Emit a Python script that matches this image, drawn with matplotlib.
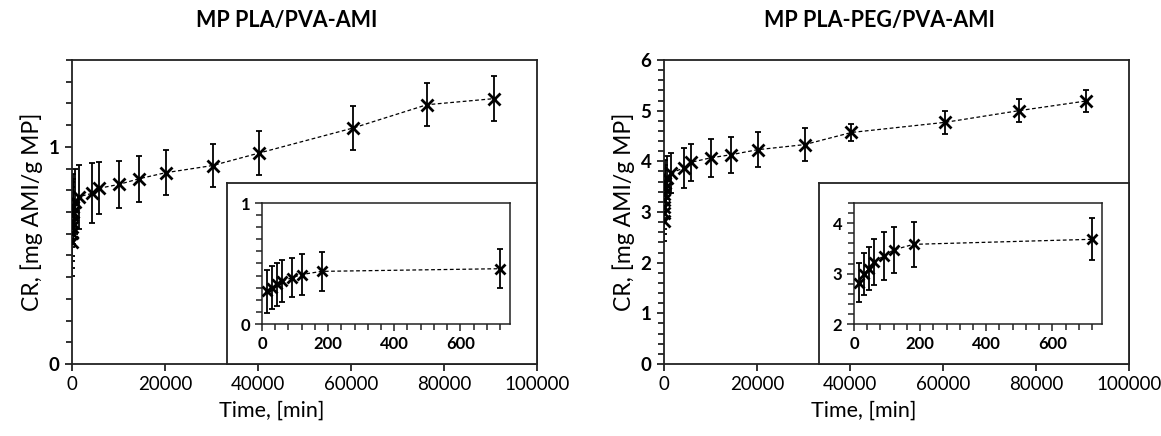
import matplotlib
matplotlib.use("Agg")
import matplotlib.pyplot as plt
from matplotlib.ticker import MultipleLocator

plt.rcParams['font.family'] = ['Lato', 'DejaVu Sans']

# time points, [min]
t_early = [15, 30, 45, 60, 90, 120, 180, 720]
t_late = [1440, 4320, 5760, 10080, 14400, 20160, 30240, 40320, 60480, 76320, 90720]

# MP PLA/PVA-AMI
pla_main_early = [0.563, 0.602, 0.633, 0.656, 0.687, 0.702, 0.725, 0.748]
pla_main_early_err = [0.16, 0.16, 0.16, 0.16, 0.15, 0.15, 0.15, 0.15]
pla_late = [0.770, 0.786, 0.809, 0.827, 0.853, 0.881, 0.914, 0.972, 1.087, 1.194, 1.222]
pla_late_err = [0.147, 0.138, 0.12, 0.11, 0.105, 0.103, 0.10, 0.10, 0.10, 0.10, 0.105]
pla_inset = [0.269, 0.301, 0.328, 0.355, 0.382, 0.409, 0.435, 0.457]
pla_inset_err = [0.178, 0.179, 0.179, 0.176, 0.16, 0.168, 0.16, 0.16]

# MP PLA-PEG/PVA-AMI
peg_inset = [2.82, 2.99, 3.10, 3.23, 3.35, 3.47, 3.58, 3.68]
peg_inset_err = [0.39, 0.42, 0.43, 0.45, 0.47, 0.46, 0.45, 0.42]
peg_late = [3.77, 3.87, 3.98, 4.07, 4.13, 4.23, 4.33, 4.57, 4.77, 5.00, 5.19]
peg_late_err = [0.39, 0.39, 0.37, 0.37, 0.36, 0.34, 0.32, 0.17, 0.23, 0.23, 0.21]

W, H = 1161, 436
fig = plt.figure(figsize=(W / 100, H / 100), dpi=100)


def box(x0, y0, x1, y1):
    return [x0 / W, 1 - y1 / H, (x1 - x0) / W, (y1 - y0) / H]


def series(ax, t, y, e, ms=8):
    ax.errorbar(t, y, yerr=e, fmt='none', ecolor='black', elinewidth=1.3,
                capsize=2.5, capthick=1.3, zorder=2)
    ax.plot(t, y, linestyle=(0, (3, 2)), color='black', linewidth=0.9,
            marker='x', markersize=ms, markeredgewidth=2, zorder=3)


def style(ax, lw=1.3):
    for s in ax.spines.values():
        s.set_linewidth(lw)
        s.set_color('#222222')
    ax.tick_params(which='both', direction='out', color='#222222', width=lw)
    ax.tick_params(which='major', length=5)
    ax.tick_params(which='minor', length=4)


panels = [
    (72, 'MP PLA/PVA-AMI', pla_main_early, pla_main_early_err, pla_late, pla_late_err,
     (0, 1.4), 1, 0.1, pla_inset, pla_inset_err, (0, 1), 1, 0.1),
    (664, 'MP PLA-PEG/PVA-AMI', peg_inset, peg_inset_err, peg_late, peg_late_err,
     (0, 6), 1, 0.2, peg_inset, peg_inset_err, (2, 4.4), 1, 0.2),
]

for x0, title, ye, ee, yl, el, ylim, maj, mnr, yi, ei, ylim_i, maj_i, mnr_i in panels:
    ax = fig.add_axes(box(x0, 60, x0 + 465, 364))
    series(ax, t_early + t_late, ye + yl, ee + el)
    ax.set_xlim(0, 100000)
    ax.set_ylim(*ylim)
    ax.xaxis.set_major_locator(MultipleLocator(20000))
    ax.yaxis.set_major_locator(MultipleLocator(maj))
    ax.yaxis.set_minor_locator(MultipleLocator(mnr))
    style(ax)
    ax.tick_params(axis='x', labelsize=13.5)
    ax.tick_params(axis='y', labelsize=13.5, pad=4)
    for lab in ax.get_yticklabels():
        lab.set_fontweight('bold')

    # white framed box that holds the inset
    bx = fig.add_axes(box(x0 + 155, 183, x0 + 465, 364))
    bx.set_xticks([])
    bx.set_yticks([])
    for s in bx.spines.values():
        s.set_linewidth(1.3)
        s.set_color('#222222')
    bx.set_zorder(5)

    ix = fig.add_axes(box(x0 + 190, 203, x0 + 438, 324))
    series(ix, t_early, yi, ei, ms=7)
    ix.set_xlim(0, 750)
    ix.set_ylim(*ylim_i)
    ix.xaxis.set_major_locator(MultipleLocator(200))
    ix.xaxis.set_minor_locator(MultipleLocator(40))
    ix.yaxis.set_major_locator(MultipleLocator(maj_i))
    ix.yaxis.set_minor_locator(MultipleLocator(mnr_i))
    style(ix, lw=1.1)
    ix.tick_params(labelsize=12)
    for lab in ix.get_xticklabels() + ix.get_yticklabels():
        lab.set_fontweight('bold')
    ix.set_zorder(6)

    fig.text((x0 + 215) / W, 1 - 20 / H, title, ha='center', va='center',
             fontsize=15.5, fontweight='bold')
    fig.text((x0 + 200) / W, 1 - 411 / H, 'Time, [min]', ha='center', va='center',
             fontsize=15.5)
    fig.text((x0 - 40) / W, 1 - 212 / H, 'CR, [mg AMI/g MP]', ha='center', va='center',
             fontsize=16.5, rotation=90)

fig.savefig('out.png', dpi=100)
